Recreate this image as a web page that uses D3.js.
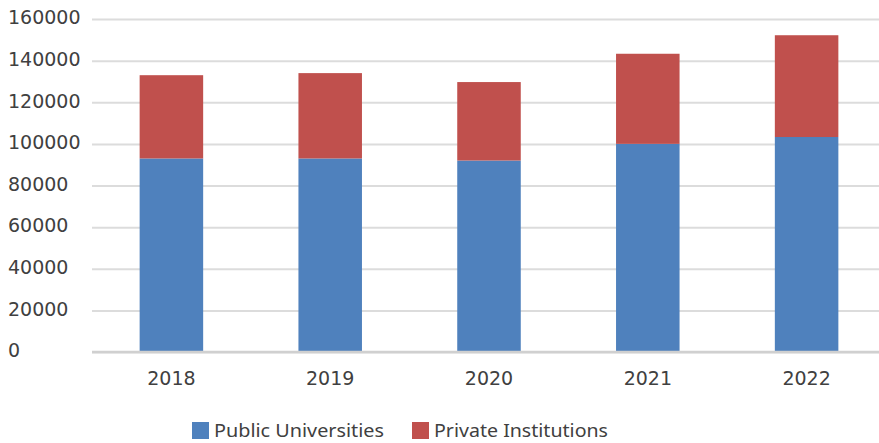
<!DOCTYPE html>
<html>
<head>
<meta charset="utf-8">
<script src="https://cdn.jsdelivr.net/npm/d3@7"></script>
<style>
  body { margin: 0; background: #fff; }
  svg { display: block; }
</style>
</head>
<body>
<svg id="chart"></svg>
<script>
var width = 879, height = 443;

var years = ["2018", "2019", "2020", "2021", "2022"];
var publicUniv = [93000, 93000, 92000, 100000, 103300];
var privateInst = [40000, 41000, 37700, 43300, 48900];
var seriesNames = ["Public Universities", "Private Institutions"];
var seriesColors = ["#4f81bd", "#c0504d"];
var yTicks = [0, 20000, 40000, 60000, 80000, 100000, 120000, 140000, 160000];

var rows = years.map(function(y, i) {
    return {year: y, pub: publicUniv[i], priv: privateInst[i]};
});
var stacked = d3.stack().keys(["pub", "priv"])(rows);

var chart = d3.select('#chart')
    .attr('width', width)
    .attr('height', height);

var x = d3.scaleBand()
    .domain(years)
    .range([92, 886])
    .paddingInner(0.6)
    .paddingOuter(0.3);

var y = d3.scaleLinear()
    .domain([0, 160000])
    .range([352, 19]);

// gridlines + y labels
var yAxis = chart.append("g")
    .attr("transform", "translate(92,0)")
    .call(d3.axisLeft(y).tickValues(yTicks).tickFormat(d3.format("d")).tickSize(-(width - 92)));
yAxis.select(".domain").remove();
yAxis.selectAll("line")
    .attr("stroke", "#dcdcdc")
    .attr("stroke-width", 2);
yAxis.selectAll("text")
    .attr("x", -84)
    .attr("dy", "0.25em")
    .attr("text-anchor", "start")
    .attr("fill", "#404040")
    .style("font-family", "DejaVu Sans")
    .style("font-size", "19px");

// bars
chart.append("g")
    .selectAll("g")
    .data(stacked)
    .enter()
    .append("g")
        .attr("fill", (d, i) => seriesColors[i])
    .selectAll("rect")
    .data(d => d)
    .enter()
    .append("rect")
        .attr("x", d => x(d.data.year))
        .attr("y", d => y(d[1]))
        .attr("width", x.bandwidth())
        .attr("height", d => y(d[0]) - y(d[1]));

// baseline
chart.append("line")
    .attr("x1", 92)
    .attr("x2", width)
    .attr("y1", y(0))
    .attr("y2", y(0))
    .attr("stroke", "#d0d0d0")
    .attr("stroke-width", 2.5);

// x labels
var xAxis = chart.append("g")
    .attr("transform", "translate(0,352)")
    .call(d3.axisBottom(x).tickSize(0).tickPadding(20));
xAxis.select(".domain").remove();
xAxis.selectAll("text")
    .attr("fill", "#404040")
    .style("font-family", "DejaVu Sans")
    .style("font-size", "19px");

// legend
var legendX = [192, 412];
var legend = chart.append("g")
    .selectAll("g")
    .data(seriesNames)
    .enter()
    .append("g")
        .attr("transform", (d, i) => "translate(" + legendX[i] + ",422)");
legend.append("rect")
    .attr("width", 17)
    .attr("height", 17)
    .attr("fill", (d, i) => seriesColors[i]);
legend.append("text")
    .attr("x", 22)
    .attr("y", 15)
    .attr("fill", "#404040")
    .attr("textLength", (d, i) => [170, 174][i])
    .attr("lengthAdjust", "spacingAndGlyphs")
    .style("font-family", "Noto Sans")
    .style("font-size", "18px")
    .text(d => d);
</script>
</body>
</html>
